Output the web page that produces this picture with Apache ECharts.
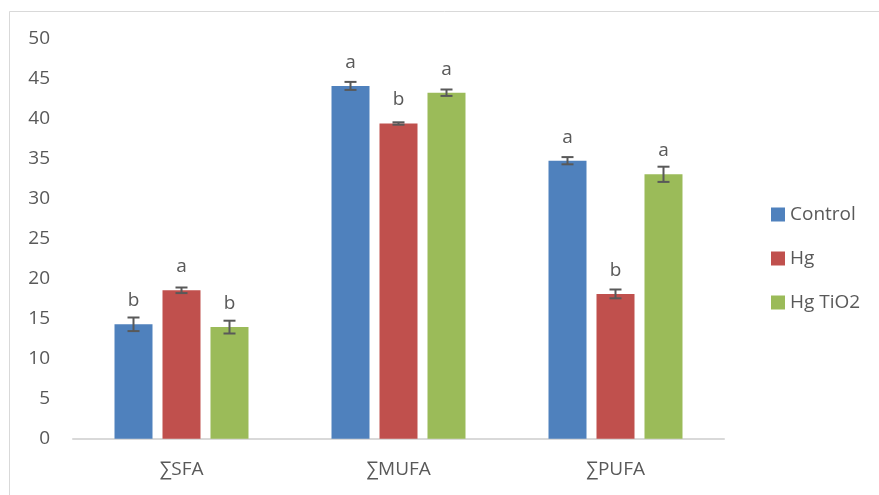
<!DOCTYPE html>
<html>
<head>
<meta charset="utf-8">
<script src="https://cdn.jsdelivr.net/npm/echarts@6/dist/echarts.min.js"></script>
<style>
html,body{margin:0;padding:0;background:#fff;}
#chart{width:879px;height:495px;}
</style>
</head>
<body>
<div id="chart"></div>
<script>
var categories = ['∑SFA', '∑MUFA', '∑PUFA'];
var seriesNames = ['Control', 'Hg', 'Hg TiO2'];
var controlValues = [14.3, 44.1, 34.75];
var hgValues = [18.55, 39.4, 18.1];
var hgTiO2Values = [13.95, 43.25, 33.05];
var controlErrors = [0.85, 0.5, 0.45];
var hgErrors = [0.35, 0.15, 0.55];
var hgTiO2Errors = [0.8, 0.4, 0.95];
var controlLetters = ['b', 'a', 'a'];
var hgLetters = ['a', 'b', 'b'];
var hgTiO2Letters = ['b', 'a', 'a'];
var yTicks = [0, 5, 10, 15, 20, 25, 30, 35, 40, 45, 50];

var colors = ['#4F81BD', '#C0504D', '#9BBB59'];
var textColor = '#595959';
var fontFamily = '"Open Sans", "DejaVu Sans", sans-serif';
var BAR_W = 38, BAR_GAP = 10;

var values = [controlValues, hgValues, hgTiO2Values];
var errors = [controlErrors, hgErrors, hgTiO2Errors];
var letters = [controlLetters, hgLetters, hgTiO2Letters];

var chart = echarts.init(document.getElementById('chart'));

var series = [];
seriesNames.forEach(function (name, s) {
  series.push({
    name: name,
    type: 'bar',
    data: values[s],
    barWidth: BAR_W,
    barGap: (BAR_GAP / BAR_W * 100).toFixed(1) + '%',
    itemStyle: { color: colors[s] },
    label: {
      show: true,
      position: 'top',
      distance: 14,
      color: textColor,
      fontSize: 19,
      fontFamily: fontFamily,
      formatter: function (p) { return letters[s][p.dataIndex]; }
    },
    z: 2
  });
});
seriesNames.forEach(function (name, s) {
  series.push({
    type: 'custom',
    name: name + ' err',
    z: 5,
    silent: true,
    data: values[s].map(function (v, i) { return [i, v, errors[s][i]]; }),
    renderItem: function (params, api) {
      var i = api.value(0), v = api.value(1), e = api.value(2);
      var off = (s - 1) * (BAR_W + BAR_GAP);
      var hi = api.coord([i, v + e]);
      var lo = api.coord([i, v - e]);
      var x = hi[0] + off;
      var cw = 6;
      var st = { stroke: '#595959', lineWidth: 2 };
      return {
        type: 'group',
        children: [
          { type: 'line', shape: { x1: x, y1: hi[1], x2: x, y2: lo[1] }, style: st },
          { type: 'line', shape: { x1: x - cw, y1: hi[1], x2: x + cw, y2: hi[1] }, style: st },
          { type: 'line', shape: { x1: x - cw, y1: lo[1], x2: x + cw, y2: lo[1] }, style: st }
        ]
      };
    }
  });
});

chart.setOption({
  animation: false,
  backgroundColor: '#fff',
  graphic: [{
    type: 'rect',
    shape: { x: 9.5, y: 11.5, width: 900, height: 600 },
    style: { fill: 'none', stroke: '#D9D9D9', lineWidth: 1 },
    silent: true
  }],
  grid: { left: 73, right: 155, top: 38.7, bottom: 56.3 },
  legend: {
    data: seriesNames,
    orient: 'vertical',
    left: 766,
    top: 200,
    itemWidth: 14,
    itemHeight: 14,
    itemGap: 25,
    icon: 'rect',
    textStyle: { color: textColor, fontSize: 19, fontFamily: fontFamily }
  },
  xAxis: {
    type: 'category',
    data: categories,
    axisTick: { show: false },
    axisLine: { lineStyle: { color: '#D9D9D9', width: 2 } },
    axisLabel: { color: textColor, fontSize: 19, fontFamily: fontFamily, margin: 21 }
  },
  yAxis: {
    type: 'value',
    min: yTicks[0],
    max: yTicks[yTicks.length - 1],
    interval: yTicks[1] - yTicks[0],
    splitLine: { show: false },
    axisLine: { show: false },
    axisTick: { show: false },
    axisLabel: { color: textColor, fontSize: 19, fontFamily: fontFamily, margin: 23 }
  },
  series: series
});
</script>
</body>
</html>
